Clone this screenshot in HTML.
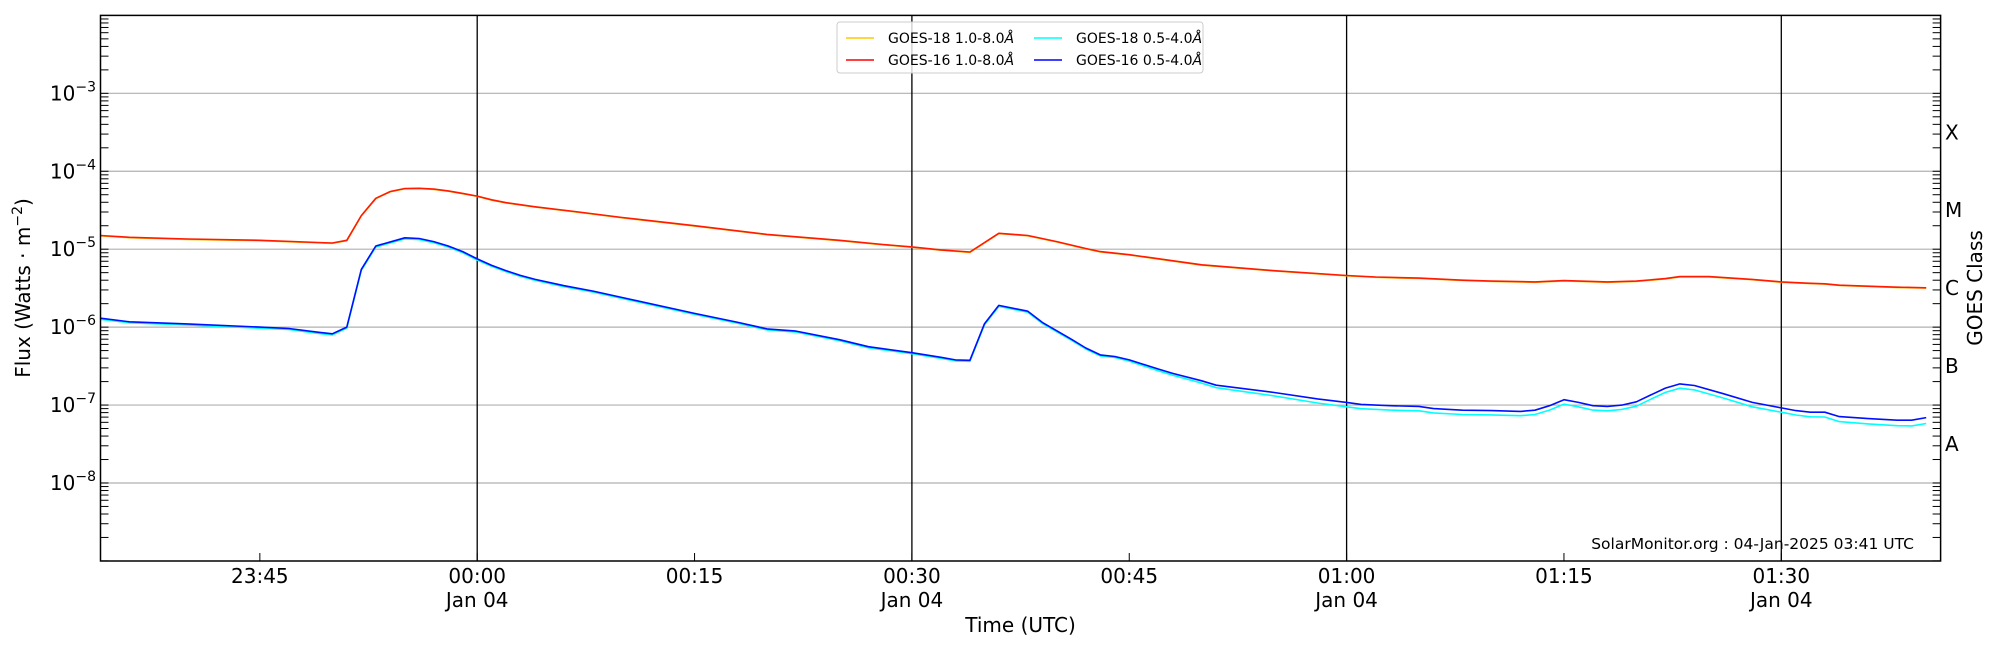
<!DOCTYPE html>
<html><head><meta charset="utf-8"><style>
html,body{margin:0;padding:0;background:#fff;}
svg{display:block;font-family:"DejaVu Sans","Liberation Sans",sans-serif;}
</style></head><body>
<svg id="s" width="2000" height="650" viewBox="0 0 2000 650" xmlns="http://www.w3.org/2000/svg"></svg>
<script>
const L=100.5,R=1940.6,T=15.4,B=561;
const X=t=>477.2+t*14.49;
const Y=f=>T+(-2-Math.log10(f))*77.93;
let h='';
for(let e=-3;e>=-8;e--){const y=Y(Math.pow(10,e));h+=`<line x1="${L}" x2="${R}" y1="${y}" y2="${y}" stroke="#b0b0b0" stroke-width="1.2"/>`;}
[0,30,60,90].forEach(t=>{h+=`<line x1="${X(t)}" x2="${X(t)}" y1="${T}" y2="${B}" stroke="#000" stroke-width="1.3"/>`;});
for(let e=-9;e<-2;e++){for(let k=1;k<10;k++){const y=Y(k*Math.pow(10,e));if(y<T||y>B)continue;
h+=`<line x1="${L}" x2="${L+8}" y1="${y}" y2="${y}" stroke="#000" stroke-width="1"/>`;
h+=`<line x1="${R-8}" x2="${R}" y1="${y}" y2="${y}" stroke="#000" stroke-width="1"/>`;}}
[-15,0,15,30,45,60,75,90].forEach(t=>{h+=`<line x1="${X(t)}" x2="${X(t)}" y1="${B-8}" y2="${B}" stroke="#000" stroke-width="1"/>`;});
const lab=[[-15,'23:45',0],[0,'00:00',1],[15,'00:15',0],[30,'00:30',1],[45,'00:45',0],[60,'01:00',1],[75,'01:15',0],[90,'01:30',1]];
lab.forEach(([t,s,j])=>{h+=`<text x="${X(t)}" y="583" font-size="20" text-anchor="middle">${s}</text>`;if(j)h+=`<text x="${X(t)}" y="607" font-size="20" text-anchor="middle">Jan 04</text>`;});
h+=`<text x="${(L+R)/2}" y="632" font-size="20" text-anchor="middle">Time (UTC)</text>`;
for(let e=-3;e>=-8;e--){const y=Y(Math.pow(10,e));h+=`<text x="96" y="${y+7}" font-size="20" text-anchor="end">10<tspan font-size="14" dy="-9">−${-e}</tspan></text>`;}
h+=`<text transform="translate(30,288) rotate(-90)" font-size="20" text-anchor="middle">Flux (Watts · m<tspan font-size="14" dy="-8">−2</tspan><tspan dy="8">)</tspan></text>`;
h+=`<text transform="translate(1982,288) rotate(-90)" font-size="20" text-anchor="middle">GOES Class</text>`;
[['X',-3.5],['M',-4.5],['C',-5.5],['B',-6.5],['A',-7.5]].forEach(([c,e])=>{h+=`<text x="1945" y="${Y(Math.pow(10,e))+7}" font-size="20">${c}</text>`;});
const red=[[-26,1.5e-5],[-24,1.42e-5],[-20,1.35e-5],[-15,1.3e-5],[-11,1.22e-5],[-10,1.2e-5],[-9,1.3e-5],[-8,2.7e-5],[-7,4.5e-5],[-6,5.5e-5],[-5,6e-5],[-4,6.05e-5],[-3,5.9e-5],[-2,5.6e-5],[-1,5.2e-5],[0,4.8e-5],[1,4.3e-5],[2,3.95e-5],[4,3.5e-5],[7,3e-5],[10,2.55e-5],[15,2e-5],[20,1.55e-5],[25,1.3e-5],[28,1.15e-5],[30,1.07e-5],[32,9.8e-6],[34,9.2e-6],[36,1.6e-5],[38,1.5e-5],[40,1.25e-5],[42,1.02e-5],[43,9.3e-6],[45,8.5e-6],[50,6.3e-6],[55,5.3e-6],[60,4.6e-6],[62,4.4e-6],[65,4.25e-6],[68,4e-6],[70,3.9e-6],[73,3.8e-6],[75,3.95e-6],[78,3.8e-6],[80,3.9e-6],[82,4.2e-6],[83,4.45e-6],[85,4.45e-6],[88,4.1e-6],[90,3.8e-6],[92,3.65e-6],[93,3.6e-6],[94,3.45e-6],[96,3.35e-6],[98,3.25e-6],[100,3.2e-6]];
const blue=[[-26,1.3e-6],[-24,1.17e-6],[-20,1.1e-6],[-15,1e-6],[-13,9.6e-7],[-11,8.6e-7],[-10,8.2e-7],[-9,1e-6],[-8,5.5e-6],[-7,1.1e-5],[-5,1.4e-5],[-4,1.37e-5],[-3,1.25e-5],[-2,1.1e-5],[-1,9.3e-6],[0,7.5e-6],[1,6.2e-6],[2,5.3e-6],[3,4.6e-6],[4,4.1e-6],[6,3.4e-6],[8,2.9e-6],[10,2.4e-6],[15,1.5e-6],[18,1.15e-6],[20,9.5e-7],[22,8.9e-7],[25,6.9e-7],[27,5.6e-7],[30,4.7e-7],[32,4.1e-7],[33,3.8e-7],[34,3.75e-7],[35,1.1e-6],[36,1.9e-6],[38,1.6e-6],[39,1.15e-6],[41,7e-7],[42,5.4e-7],[43,4.4e-7],[44,4.2e-7],[45,3.8e-7],[47,2.9e-7],[48,2.55e-7],[50,2.05e-7],[51,1.8e-7],[55,1.45e-7],[58,1.2e-7],[60,1.08e-7],[61,1.02e-7],[63,9.8e-8],[65,9.6e-8],[66,9e-8],[68,8.6e-8],[70,8.5e-8],[72,8.3e-8],[73,8.6e-8],[74,9.8e-8],[75,1.17e-7],[76,1.08e-7],[77,9.8e-8],[78,9.6e-8],[79,1e-7],[80,1.1e-7],[81,1.35e-7],[82,1.65e-7],[83,1.87e-7],[84,1.78e-7],[86,1.4e-7],[88,1.08e-7],[90,9.2e-8],[91,8.5e-8],[92,8.1e-8],[93,8.1e-8],[94,7.1e-8],[96,6.7e-8],[98,6.4e-8],[99,6.4e-8],[100,6.9e-8]];
const cf=t=>t<44?0.97:(t<60?0.97-(t-44)*0.006:(t<90?0.88:0.88-(t-90)*0.004));
const cyan=blue.map(([t,f])=>[t,f*cf(t)]);
const P=(d,c,w)=>`<polyline fill="none" stroke="${c}" stroke-width="${w}" stroke-linejoin="round" points="${d.map(([t,f])=>X(t).toFixed(1)+','+Y(f).toFixed(1)).join(' ')}"/>`;
h+=P(red.map(([t,f])=>[t,f*0.99]),'#ffc800',1.6);
h+=P(red,'#ff1a00',1.6);
h+=P(cyan,'#00ffff',1.6);
h+=P(blue,'#0010ff',1.6);
h+=`<rect x="837" y="22" width="366" height="51" rx="3" fill="#fff" fill-opacity="0.8" stroke="#ccc"/>`;
[[846,38,'#ffc800','GOES-18 1.0-8.0'],[846,60,'#ff0000','GOES-16 1.0-8.0'],[1034,38,'#00ffff','GOES-18 0.5-4.0'],[1034,60,'#0000ff','GOES-16 0.5-4.0']].forEach(([x,y,c,s])=>{
h+=`<line x1="${x}" x2="${x+28}" y1="${y}" y2="${y}" stroke="${c}" stroke-width="1.5"/>`;
h+=`<text x="${x+42}" y="${y+5}" font-size="14">${s}<tspan font-style="italic">Å</tspan></text>`;});
h+=`<text x="1914" y="549" font-size="15.5" text-anchor="end">SolarMonitor.org : 04-Jan-2025 03:41 UTC</text>`;
h+=`<rect x="${L}" y="${T}" width="${R-L}" height="${B-T}" fill="none" stroke="#000" stroke-width="1.5"/>`;
document.getElementById('s').innerHTML=h;
</script>
</body></html>
